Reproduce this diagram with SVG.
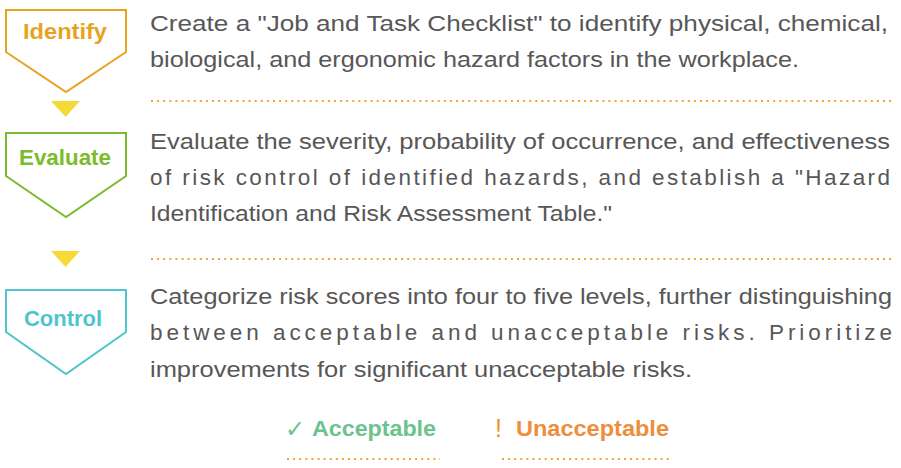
<svg xmlns="http://www.w3.org/2000/svg" width="901" height="468" viewBox="0 0 901 468">
<style>
.body{font-family:"Liberation Sans",Arial,sans-serif;font-size:22.5px;fill:#575757}
.lbl{font-family:"Liberation Sans",Arial,sans-serif;font-size:22px;font-weight:bold;text-anchor:middle}
.dots{stroke:#F0A530;stroke-width:2;stroke-dasharray:2 4.1;fill:none}
.tri{fill:#F5DA38}
</style>
<rect width="901" height="468" fill="#ffffff"/>
<g id="identify">
<polygon points="6,10 126,10 126,52 66,92 6,52" fill="#fff" stroke="#E8A31E" stroke-width="2"/>
<text class="lbl" x="65" y="39" fill="#E8A31E" textLength="84" lengthAdjust="spacingAndGlyphs">Identify</text>
</g>
<g id="evaluate">
<polygon points="6,133 126,133 126,176 66,217 6,176" fill="#fff" stroke="#7CBB2B" stroke-width="2"/>
<text class="lbl" x="65" y="165" fill="#7CBB2B" textLength="92" lengthAdjust="spacingAndGlyphs">Evaluate</text>
</g>
<g id="control">
<polygon points="6,290 126,290 126,332 66,374 6,332" fill="#fff" stroke="#4EC4CF" stroke-width="2"/>
<text class="lbl" x="63" y="326" fill="#4EC4CF" textLength="78" lengthAdjust="spacingAndGlyphs">Control</text>
</g>
<g id="connectors">
<polygon class="tri" points="51,101 80,101 65.5,117"/>
<polygon class="tri" points="51,251 80,251 65.5,267"/>
</g>
<g id="text-identify">
<text class="body" x="150" y="31" textLength="738" lengthAdjust="spacingAndGlyphs">Create a "Job and Task Checklist" to identify physical, chemical,</text>
<text class="body" x="150" y="67" textLength="649" lengthAdjust="spacingAndGlyphs">biological, and ergonomic hazard factors in the workplace.</text>
<line class="dots" x1="151" y1="101" x2="893" y2="101"/>
</g>
<g id="text-evaluate">
<text class="body" x="150" y="149" textLength="740" lengthAdjust="spacingAndGlyphs">Evaluate the severity, probability of occurrence, and effectiveness</text>
<text class="body" x="150" y="185" textLength="740" lengthAdjust="spacing">of risk control of identified hazards, and establish a "Hazard</text>
<text class="body" x="150" y="221" textLength="462" lengthAdjust="spacingAndGlyphs">Identification and Risk Assessment Table."</text>
<line class="dots" x1="151" y1="259" x2="893" y2="259"/>
</g>
<g id="text-control">
<text class="body" x="150" y="304" textLength="742" lengthAdjust="spacingAndGlyphs">Categorize risk scores into four to five levels, further distinguishing</text>
<text class="body" x="150" y="340" textLength="742" lengthAdjust="spacing">between acceptable and unacceptable risks. Prioritize</text>
<text class="body" x="150" y="377" textLength="542" lengthAdjust="spacingAndGlyphs">improvements for significant unacceptable risks.</text>
</g>
<g id="legend">
<text x="285" y="437" font-family="DejaVu Sans,sans-serif" font-size="24" fill="#6CC38E">✓</text>
<text x="312" y="436" font-family="Liberation Sans,Arial,sans-serif" font-size="22" font-weight="bold" fill="#6CC38E" textLength="124" lengthAdjust="spacingAndGlyphs">Acceptable</text>
<line class="dots" x1="287" y1="459" x2="440" y2="459"/>
<text x="495" y="437" font-family="Liberation Sans,Arial,sans-serif" font-size="25" fill="#EE8E3C">!</text>
<text x="516" y="436" font-family="Liberation Sans,Arial,sans-serif" font-size="22" font-weight="bold" fill="#EE8E3C" textLength="153" lengthAdjust="spacingAndGlyphs">Unacceptable</text>
<line class="dots" x1="502" y1="459" x2="672" y2="459"/>
</g>
</svg>
